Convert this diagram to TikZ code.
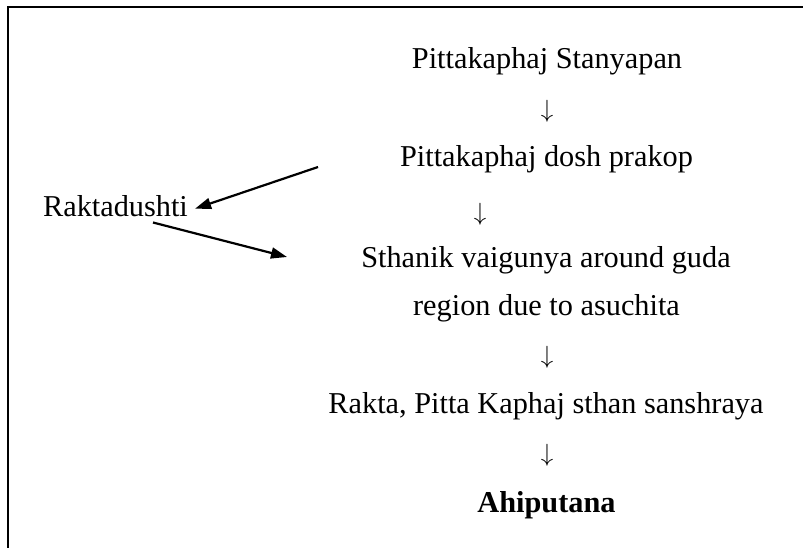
\documentclass[tikz,border=0pt]{standalone}
\usepackage{fontspec}
\setmainfont{Liberation Serif}
\usetikzlibrary{arrows.meta}
\begin{document}
\begin{tikzpicture}[x=1pt,y=-1pt,
  txt/.style={inner sep=0pt, anchor=base, font=\fontsize{30.3}{36}\selectfont},
  darr/.style={inner sep=0pt, anchor=center, text=black, font=\fontsize{28}{34}\selectfont},
  bigarrow/.style={line width=2.2pt, -{Triangle[length=16pt,width=11pt]}},
  frame/.style={line width=2.4pt}]
\useasboundingbox (0,0) rectangle (803,548);
\draw[frame] (8,549) -- (8,7) -- (804,7);
\node[txt] (n1) at (547,69) {Pittakaphaj Stanyapan};
\node[darr] (a1) at (547,111.5) {$\downarrow$};
\node[txt] (n2) at (546.5,167) {Pittakaphaj dosh prakop};
\node[darr] (a2) at (480,214) {$\downarrow$};
\node[txt] (n3) at (546,267) {Sthanik vaigunya around guda};
\node[txt] (n3b) at (546.5,315) {region due to asuchita};
\node[darr] (a3) at (547,357) {$\downarrow$};
\node[txt] (n4) at (546,413) {Rakta, Pitta Kaphaj sthan sanshraya};
\node[darr] (a4) at (547,455.5) {$\downarrow$};
\node[txt, font=\fontsize{30.3}{36}\selectfont\bfseries] (n5) at (546.5,512) {Ahiputana};
\node[txt] (rk) at (115.5,217) {Raktadushti};
\coordinate (s1) at (318,167);
\coordinate (e2) at (287,257);
\draw[bigarrow] (s1) -- ([xshift=7pt,yshift=-2pt]rk.east);
\draw[bigarrow] ([xshift=37.5pt,yshift=-5pt]rk.south) -- (e2);
\end{tikzpicture}
\end{document}
